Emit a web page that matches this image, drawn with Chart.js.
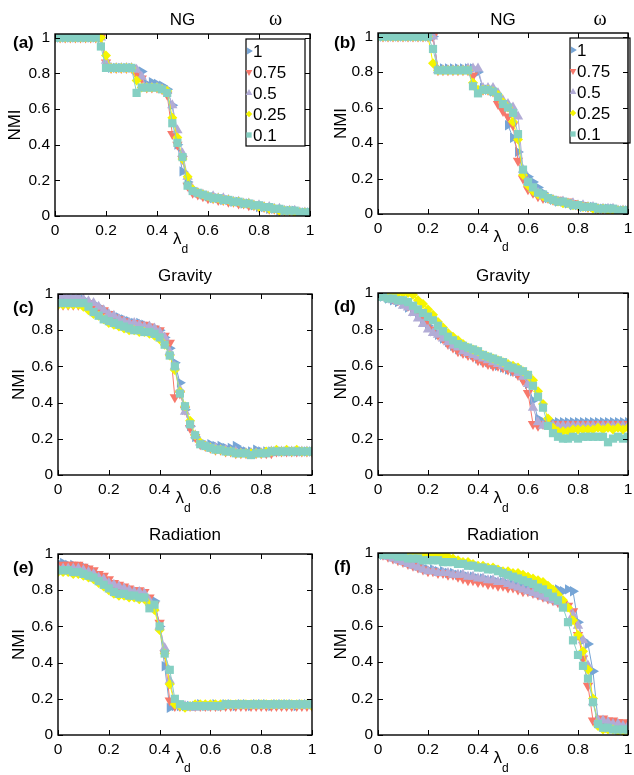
<!DOCTYPE html>
<html><head><meta charset="utf-8">
<script src="https://cdn.jsdelivr.net/npm/chart.js@4.4.1/dist/chart.umd.min.js"></script>
<style>
html,body{margin:0;padding:0;background:#fff;}
#wrap{position:relative;width:634px;height:775px;overflow:hidden;background:#fff;}
#wrap canvas{position:absolute;left:0;top:0;}
</style></head><body>
<div id="wrap">
<canvas id="ca" width="634" height="775"></canvas>
<canvas id="cb" width="634" height="775"></canvas>
<canvas id="cc" width="634" height="775"></canvas>
<canvas id="cd" width="634" height="775"></canvas>
<canvas id="ce" width="634" height="775"></canvas>
<canvas id="cf" width="634" height="775"></canvas>
</div>
<script>
// ---------- data ----------
const lambda = [0,0.02,0.04,0.06,0.08,0.1,0.12,0.14,0.16,0.18,0.2,0.22,0.24,0.26,0.28,0.3,0.32,0.34,0.36,0.38,0.4,0.42,0.44,0.46,0.48,0.5,0.52,0.54,0.56,0.58,0.6,0.62,0.64,0.66,0.68,0.7,0.72,0.74,0.76,0.78,0.8,0.82,0.84,0.86,0.88,0.9,0.92,0.94,0.96,0.98,1];
const omegaLabels = ['1','0.75','0.5','0.25','0.1'];
const xTickValues = [0,0.2,0.4,0.6,0.8,1];
const xTickLabels = ['0','0.2','0.4','0.6','0.8','1'];
const yTickValues = [0,0.2,0.4,0.6,0.8,1];
const yTickLabels = ['0','0.2','0.4','0.6','0.8','1'];

// (a) NG
const ngA_w1   = [1,1,1,1,1,1,1,1,1,1, 0.84,0.83,0.83,0.83,0.83,0.83,0.82,0.81,0.74,0.75, 0.74,0.73,0.71,0.62,0.40,0.25,0.19,0.15,0.13,0.12, 0.11,0.10,0.10,0.09,0.09,0.08,0.08,0.07,0.07,0.06, 0.05,0.05,0.04,0.04,0.03,0.03,0.03,0.03,0.02,0.02, 0.02];
const ngA_w075 = [1,1,1,1,1,1,1,1,1,1, 0.86,0.83,0.83,0.83,0.83,0.83,0.79,0.77,0.72,0.72, 0.72,0.71,0.68,0.46,0.40,0.32,0.17,0.13,0.12,0.11, 0.10,0.10,0.09,0.09,0.08,0.08,0.07,0.07,0.06,0.06, 0.05,0.05,0.04,0.04,0.03,0.03,0.03,0.02,0.02,0.02, 0.02];
const ngA_w05  = [1,1,1,1,1,1,1,1,1,1, 0.87,0.83,0.83,0.83,0.83,0.83,0.82,0.78,0.72,0.72, 0.72,0.71,0.70,0.62,0.48,0.35,0.22,0.15,0.13,0.12, 0.11,0.11,0.10,0.10,0.09,0.08,0.08,0.07,0.07,0.06, 0.06,0.05,0.05,0.04,0.04,0.03,0.03,0.03,0.02,0.02, 0.02];
const ngA_w025 = [1,1,1,1,1,1,1,1,1,1, 0.90,0.83,0.83,0.83,0.83,0.83,0.76,0.72,0.72,0.72, 0.72,0.71,0.70,0.55,0.44,0.32,0.22,0.15,0.13,0.12, 0.11,0.10,0.10,0.09,0.09,0.08,0.08,0.07,0.07,0.06, 0.05,0.05,0.04,0.04,0.03,0.03,0.03,0.02,0.02,0.02, 0.02];
const ngA_w01  = [1,1,1,1,1,1,1,1,1,0.95, 0.83,0.83,0.83,0.83,0.83,0.83,0.69,0.72,0.72,0.72, 0.72,0.71,0.69,0.52,0.41,0.33,0.17,0.14,0.13,0.12, 0.11,0.10,0.10,0.09,0.09,0.08,0.08,0.07,0.07,0.06, 0.06,0.05,0.05,0.04,0.04,0.03,0.03,0.03,0.02,0.02, 0.02];

// (b) NG
const ngB_w1   = [1,1,1,1,1,1,1,1,1,1, 1,1,0.82,0.82,0.82,0.82,0.82,0.82,0.82,0.82, 0.80,0.71,0.70,0.69,0.66,0.62,0.50,0.43,0.35,0.23, 0.21,0.18,0.15,0.12,0.09,0.08,0.07,0.07,0.06,0.05, 0.05,0.04,0.04,0.04,0.03,0.03,0.03,0.03,0.02,0.02, 0.02];
const ngB_w075 = [1,1,1,1,1,1,1,1,1,1, 1,1,0.81,0.81,0.81,0.81,0.81,0.81,0.81,0.78, 0.70,0.70,0.70,0.69,0.62,0.58,0.55,0.50,0.30,0.20, 0.14,0.12,0.10,0.09,0.09,0.08,0.08,0.07,0.07,0.06, 0.05,0.05,0.04,0.04,0.03,0.03,0.03,0.02,0.02,0.02, 0.02];
const ngB_w05  = [1,1,1,1,1,1,1,1,1,1, 1,1,0.81,0.81,0.81,0.81,0.81,0.81,0.82,0.82, 0.82,0.71,0.71,0.71,0.68,0.64,0.62,0.60,0.55,0.25, 0.18,0.14,0.12,0.10,0.09,0.08,0.07,0.07,0.06,0.06, 0.05,0.05,0.04,0.04,0.03,0.03,0.03,0.03,0.02,0.02, 0.02];
const ngB_w025 = [1,1,1,1,1,1,1,1,1,1, 1,0.85,0.81,0.81,0.81,0.81,0.81,0.81,0.81,0.74, 0.70,0.70,0.70,0.69,0.67,0.63,0.60,0.52,0.42,0.22, 0.16,0.13,0.11,0.10,0.09,0.08,0.07,0.06,0.06,0.05, 0.05,0.04,0.04,0.03,0.03,0.03,0.02,0.02,0.02,0.02, 0.02];
const ngB_w01  = [1,1,1,1,1,1,1,1,1,1, 1,0.93,0.81,0.81,0.81,0.81,0.81,0.81,0.81,0.72, 0.68,0.70,0.70,0.69,0.66,0.62,0.60,0.57,0.45,0.25, 0.18,0.15,0.12,0.11,0.09,0.08,0.07,0.07,0.06,0.05, 0.05,0.04,0.04,0.04,0.03,0.03,0.03,0.03,0.02,0.02, 0.02];

// (c) Gravity
const gravC_w1   = [0.97,0.97,0.97,0.97,0.97,0.97,0.95,0.94,0.93,0.91, 0.89,0.88,0.87,0.86,0.85,0.84,0.84,0.83,0.82,0.81, 0.80,0.76,0.70,0.62,0.51,0.36,0.27,0.21,0.18,0.17, 0.17,0.16,0.16,0.15,0.15,0.16,0.14,0.13,0.13,0.14, 0.13,0.13,0.13,0.13,0.13,0.13,0.13,0.13,0.13,0.13, 0.13];
const gravC_w075 = [0.94,0.94,0.94,0.94,0.94,0.95,0.95,0.93,0.92,0.91, 0.89,0.87,0.86,0.85,0.84,0.84,0.83,0.83,0.82,0.81, 0.80,0.77,0.73,0.43,0.45,0.36,0.26,0.21,0.17,0.16, 0.15,0.14,0.14,0.13,0.13,0.12,0.12,0.12,0.12,0.12, 0.12,0.12,0.12,0.13,0.13,0.13,0.13,0.13,0.13,0.13, 0.13];
const gravC_w05  = [0.99,0.99,0.98,0.98,0.98,0.97,0.96,0.95,0.93,0.91, 0.89,0.88,0.86,0.85,0.84,0.84,0.83,0.82,0.82,0.81, 0.79,0.76,0.68,0.60,0.47,0.35,0.28,0.22,0.18,0.16, 0.15,0.15,0.14,0.14,0.13,0.13,0.12,0.12,0.12,0.12, 0.12,0.12,0.13,0.13,0.13,0.13,0.13,0.13,0.13,0.13, 0.13];
const gravC_w025 = [0.94,0.94,0.94,0.94,0.94,0.93,0.91,0.89,0.88,0.86, 0.84,0.83,0.82,0.81,0.80,0.80,0.79,0.79,0.78,0.77, 0.75,0.72,0.66,0.58,0.46,0.38,0.30,0.22,0.18,0.16, 0.15,0.14,0.14,0.13,0.13,0.12,0.12,0.12,0.12,0.12, 0.12,0.13,0.13,0.14,0.13,0.14,0.13,0.14,0.13,0.13, 0.13];
const gravC_w01  = [0.95,0.95,0.95,0.95,0.95,0.95,0.93,0.90,0.88,0.86, 0.85,0.84,0.83,0.82,0.81,0.80,0.80,0.79,0.79,0.78, 0.76,0.72,0.66,0.60,0.45,0.38,0.28,0.22,0.17,0.16, 0.15,0.14,0.14,0.13,0.13,0.12,0.12,0.12,0.11,0.12, 0.12,0.12,0.13,0.13,0.13,0.13,0.13,0.13,0.13,0.13, 0.13];

// (d) Gravity
const gravD_w1   = [0.98,0.98,0.97,0.96,0.95,0.94,0.92,0.90,0.88,0.85, 0.82,0.79,0.77,0.75,0.73,0.71,0.69,0.68,0.67,0.66, 0.64,0.63,0.62,0.61,0.60,0.59,0.58,0.57,0.56,0.54, 0.50,0.41,0.31,0.29,0.29,0.29,0.29,0.29,0.29,0.29, 0.29,0.29,0.29,0.29,0.29,0.29,0.29,0.29,0.29,0.29, 0.29];
const gravD_w075 = [1.00,0.99,0.98,0.97,0.96,0.95,0.93,0.91,0.89,0.86, 0.83,0.80,0.77,0.75,0.72,0.70,0.68,0.67,0.66,0.65, 0.63,0.62,0.61,0.60,0.60,0.59,0.58,0.57,0.55,0.52, 0.45,0.28,0.27,0.28,0.28,0.28,0.28,0.28,0.28,0.28, 0.28,0.28,0.28,0.28,0.28,0.28,0.28,0.28,0.28,0.28, 0.28];
const gravD_w05  = [0.99,0.98,0.97,0.96,0.95,0.93,0.92,0.89,0.86,0.83, 0.80,0.78,0.77,0.75,0.73,0.71,0.70,0.68,0.67,0.66, 0.65,0.64,0.63,0.62,0.61,0.60,0.59,0.58,0.56,0.54, 0.50,0.37,0.29,0.27,0.27,0.27,0.27,0.27,0.27,0.27, 0.27,0.27,0.27,0.27,0.27,0.27,0.27,0.27,0.27,0.27, 0.27];
const gravD_w025 = [1.00,1.00,1.00,1.00,1.00,1.00,1.00,0.99,0.96,0.94, 0.91,0.88,0.84,0.81,0.78,0.76,0.74,0.72,0.70,0.69, 0.68,0.66,0.65,0.64,0.63,0.62,0.61,0.60,0.59,0.57, 0.55,0.52,0.46,0.39,0.31,0.26,0.24,0.24,0.24,0.25, 0.25,0.25,0.25,0.25,0.26,0.25,0.26,0.25,0.26,0.25, 0.26];
const gravD_w01  = [0.98,0.98,0.97,0.97,0.96,0.96,0.95,0.93,0.91,0.89, 0.87,0.85,0.82,0.79,0.76,0.74,0.72,0.71,0.70,0.69, 0.68,0.66,0.65,0.64,0.63,0.62,0.60,0.59,0.58,0.57, 0.55,0.49,0.43,0.37,0.27,0.23,0.21,0.20,0.20,0.21, 0.20,0.21,0.21,0.21,0.21,0.21,0.18,0.20,0.21,0.20, 0.21];

// (e) Radiation
const radE_w1   = [0.95,0.95,0.94,0.94,0.93,0.93,0.92,0.90,0.88,0.86, 0.84,0.82,0.81,0.80,0.79,0.79,0.78,0.77,0.75,0.74, 0.60,0.38,0.15,0.16,0.16,0.16,0.16,0.16,0.17,0.16, 0.16,0.17,0.16,0.17,0.17,0.16,0.17,0.17,0.16,0.17, 0.17,0.17,0.16,0.17,0.17,0.17,0.17,0.16,0.17,0.17, 0.17];
const radE_w075 = [0.93,0.94,0.94,0.94,0.94,0.93,0.92,0.91,0.89,0.88, 0.86,0.84,0.83,0.82,0.81,0.80,0.80,0.79,0.76,0.72, 0.62,0.45,0.19,0.16,0.16,0.16,0.16,0.16,0.16,0.16, 0.16,0.16,0.16,0.16,0.16,0.16,0.16,0.16,0.16,0.16, 0.16,0.16,0.16,0.16,0.16,0.16,0.16,0.16,0.16,0.16, 0.16];
const radE_w05  = [0.92,0.92,0.92,0.92,0.92,0.91,0.90,0.89,0.87,0.86, 0.84,0.83,0.82,0.81,0.80,0.79,0.79,0.78,0.74,0.70, 0.60,0.48,0.30,0.18,0.16,0.16,0.15,0.15,0.16,0.16, 0.16,0.16,0.16,0.16,0.16,0.16,0.16,0.16,0.16,0.16, 0.16,0.16,0.16,0.16,0.16,0.16,0.16,0.16,0.16,0.16, 0.16];
const radE_w025 = [0.90,0.90,0.90,0.89,0.89,0.88,0.87,0.86,0.84,0.82, 0.80,0.78,0.77,0.77,0.76,0.76,0.75,0.75,0.72,0.69, 0.58,0.45,0.28,0.17,0.16,0.15,0.16,0.17,0.17,0.17, 0.17,0.17,0.17,0.17,0.17,0.17,0.17,0.17,0.17,0.17, 0.17,0.17,0.17,0.17,0.17,0.17,0.17,0.17,0.17,0.17, 0.16];
const radE_w01  = [0.91,0.91,0.91,0.90,0.90,0.89,0.88,0.87,0.85,0.83, 0.81,0.79,0.78,0.78,0.77,0.77,0.76,0.76,0.70,0.72, 0.60,0.45,0.36,0.20,0.17,0.16,0.16,0.16,0.16,0.16, 0.16,0.16,0.16,0.17,0.17,0.17,0.17,0.17,0.17,0.17, 0.17,0.17,0.17,0.17,0.17,0.17,0.17,0.17,0.17,0.17, 0.17];

// (f) Radiation
const radF_w1   = [1.00,0.99,0.99,0.98,0.97,0.96,0.95,0.94,0.93,0.92, 0.91,0.91,0.90,0.90,0.89,0.89,0.88,0.88,0.87,0.87, 0.86,0.86,0.85,0.85,0.84,0.84,0.83,0.83,0.82,0.82, 0.81,0.80,0.79,0.78,0.78,0.79,0.80,0.79,0.80,0.79, 0.62,0.52,0.50,0.35,0.08,0.05,0.04,0.04,0.03,0.03, 0.03];
const radF_w075 = [1.00,0.99,0.98,0.97,0.96,0.95,0.94,0.93,0.92,0.91, 0.90,0.90,0.89,0.89,0.88,0.88,0.87,0.86,0.85,0.85, 0.84,0.84,0.83,0.83,0.82,0.82,0.81,0.81,0.80,0.79, 0.79,0.78,0.77,0.76,0.75,0.74,0.73,0.72,0.71,0.68, 0.55,0.42,0.27,0.08,0.07,0.09,0.08,0.08,0.07,0.07, 0.06];
const radF_w05  = [1.00,0.99,0.98,0.97,0.96,0.95,0.94,0.93,0.92,0.91, 0.90,0.90,0.89,0.89,0.89,0.88,0.88,0.88,0.87,0.87, 0.86,0.86,0.85,0.85,0.84,0.84,0.83,0.82,0.81,0.80, 0.79,0.78,0.77,0.76,0.75,0.74,0.73,0.72,0.70,0.66, 0.60,0.52,0.38,0.18,0.08,0.08,0.07,0.06,0.06,0.05, 0.05];
const radF_w025 = [1.00,1.00,1.00,1.00,1.00,1.00,1.00,1.00,1.00,0.99, 0.99,0.99,0.99,0.99,0.98,0.97,0.96,0.95,0.95,0.94, 0.93,0.93,0.92,0.92,0.91,0.90,0.90,0.89,0.89,0.88, 0.87,0.86,0.85,0.84,0.82,0.80,0.77,0.74,0.70,0.63, 0.55,0.46,0.36,0.20,0.05,0.03,0.03,0.03,0.02,0.02, 0.02];
const radF_w01  = [1.00,0.99,0.99,0.99,0.98,0.98,0.97,0.97,0.97,0.96, 0.96,0.96,0.96,0.95,0.95,0.95,0.94,0.94,0.93,0.93, 0.92,0.92,0.91,0.91,0.90,0.89,0.88,0.87,0.86,0.85, 0.84,0.83,0.81,0.80,0.78,0.76,0.74,0.70,0.62,0.52, 0.44,0.38,0.31,0.18,0.06,0.04,0.04,0.03,0.03,0.03, 0.03];

// ---------- styles ----------
const seriesColors = ['#76a5d6','#f7786b','#b2acd6','#f5f500','#85d0c3'];
const seriesShapes = ['triangle','triangle','triangle','rectRot','rect'];
const seriesRotation = [90,180,0,0,0];
const seriesRadius = [6,6,6,5,5.8];
const FONT = "'Liberation Sans', Arial, Helvetica, sans-serif";

const panels = [
  {canvas:'ca', title:'NG', tag:'(a)', series:[ngA_w1,ngA_w075,ngA_w05,ngA_w025,ngA_w01],
   frame:{left:55,top:34,right:310,bottom:216,yMax:1.02,titleY:20,tagX:13,tagY:43,nmiX:15},
   legend:{left:246,top:39,right:305,bottom:146}},
  {canvas:'cb', title:'NG', tag:'(b)', series:[ngB_w1,ngB_w075,ngB_w05,ngB_w025,ngB_w01],
   frame:{left:378,top:33,right:632,bottom:214,yMax:1.02,titleY:20,tagX:334,tagY:43,nmiX:341},
   legend:{left:570,top:38,right:630,bottom:143}},
  {canvas:'cc', title:'Gravity', tag:'(c)', series:[gravC_w1,gravC_w075,gravC_w05,gravC_w025,gravC_w01],
   frame:{left:58,top:294,right:312,bottom:475,yMax:1,titleY:276,tagX:13,tagY:308,nmiX:19}},
  {canvas:'cd', title:'Gravity', tag:'(d)', series:[gravD_w1,gravD_w075,gravD_w05,gravD_w025,gravD_w01],
   frame:{left:378,top:293,right:632,bottom:475,yMax:1,titleY:276,tagX:334,tagY:307,nmiX:341}},
  {canvas:'ce', title:'Radiation', tag:'(e)', series:[radE_w1,radE_w075,radE_w05,radE_w025,radE_w01],
   frame:{left:58,top:554,right:312,bottom:735,yMax:1,titleY:535,tagX:13,tagY:568,nmiX:19}},
  {canvas:'cf', title:'Radiation', tag:'(f)', series:[radF_w1,radF_w075,radF_w05,radF_w025,radF_w01],
   frame:{left:378,top:553,right:632,bottom:735,yMax:1,titleY:535,tagX:334,tagY:567,nmiX:341}}
];

Chart.defaults.font.family = FONT;
Chart.defaults.color = '#000';

const TICK_LEN = 5;
const decor = {
  id: 'panelDecor',
  afterDatasetsDraw(chart, args, opts) {
    const {ctx, chartArea: a} = chart;
    const xs = chart.scales.x, ys = chart.scales.y;
    ctx.save();
    // legend
    if (opts.legend) {
      const L = opts.legend;
      ctx.fillStyle = '#fff';
      ctx.fillRect(L.left, L.top, L.right - L.left, L.bottom - L.top);
      ctx.strokeStyle = '#000'; ctx.lineWidth = 1.2;
      ctx.strokeRect(L.left, L.top, L.right - L.left, L.bottom - L.top);
      ctx.font = '17px ' + FONT; ctx.textAlign = 'left'; ctx.textBaseline = 'middle';
      chart.data.datasets.forEach((ds, i) => {
        const yy = L.top + 12 + i * 21;
        ctx.fillStyle = ds.backgroundColor;
        Chart.helpers.drawPoint(ctx, {pointStyle: ds.pointStyle, rotation: ds.pointRotation, radius: ds.pointRadius * 0.65, borderWidth: 0}, L.left + 3, yy);
        ctx.fillStyle = '#000';
        ctx.fillText(ds.label, L.left + 7, yy + 1);
      });
      // omega header
      ctx.font = '20px "Liberation Serif", "DejaVu Serif", serif';
      ctx.textAlign = 'center'; ctx.textBaseline = 'middle';
      ctx.fillText('ω', (L.left + L.right) / 2, opts.titleY);
    }
    // inward tick marks
    ctx.strokeStyle = '#000'; ctx.lineWidth = 1;
    ctx.beginPath();
    xs.ticks.forEach(t => {
      const px = Math.round(xs.getPixelForValue(t.value)) + 0.5;
      ctx.moveTo(px, a.bottom); ctx.lineTo(px, a.bottom - TICK_LEN);
      ctx.moveTo(px, a.top); ctx.lineTo(px, a.top + TICK_LEN);
    });
    ys.ticks.forEach(t => {
      const py = Math.round(ys.getPixelForValue(t.value)) + 0.5;
      ctx.moveTo(a.left, py); ctx.lineTo(a.left + TICK_LEN, py);
      ctx.moveTo(a.right, py); ctx.lineTo(a.right - TICK_LEN, py);
    });
    ctx.stroke();
    // box
    ctx.lineWidth = 1.4;
    ctx.strokeRect(a.left, a.top, a.right - a.left, a.bottom - a.top);
    // title
    ctx.fillStyle = '#000';
    ctx.font = '17px ' + FONT; ctx.textAlign = 'center'; ctx.textBaseline = 'middle';
    ctx.fillText(opts.title, (a.left + a.right) / 2, opts.titleY);
    // panel tag
    ctx.font = 'bold 17px ' + FONT; ctx.textAlign = 'left';
    ctx.fillText(opts.tag, opts.tagX, opts.tagY);
    // x-axis title: lambda with subscript d
    const cx = (a.left + a.right) / 2 - 2;
    ctx.textBaseline = 'alphabetic';
    ctx.font = '17px ' + FONT; ctx.textAlign = 'right';
    ctx.fillText('λ', cx + 1, a.bottom + 28);
    ctx.font = '12px ' + FONT; ctx.textAlign = 'left';
    ctx.fillText('d', cx + 1, a.bottom + 37);
    ctx.restore();
  }
};

const NMI_LH = 17 * 1.2;
const X_H = 20;
panels.forEach(p => {
  const f = p.frame;
  const padLeft = f.nmiX - NMI_LH / 2;
  const yWidth = f.left - padLeft;
  const datasets = omegaLabels.map((lab, k) => ({
    label: lab,
    data: lambda.map((x, i) => ({x: x, y: p.series[k][i]})),
    borderColor: seriesColors[k],
    backgroundColor: seriesColors[k],
    borderWidth: 1,
    pointStyle: seriesShapes[k],
    pointRotation: seriesRotation[k],
    pointRadius: seriesRadius[k],
    pointHoverRadius: seriesRadius[k],
    pointBorderWidth: 0,
    tension: 0,
    order: 4 - k
  }));
  new Chart(document.getElementById(p.canvas), {
    type: 'line',
    data: {datasets},
    options: {
      responsive: false,
      maintainAspectRatio: false,
      animation: false,
      events: [],
      layout: {padding: {left: padLeft, top: f.top, right: 634 - f.right, bottom: 775 - f.bottom - X_H}},
      scales: {
        x: {
          type: 'linear', min: 0, max: 1,
          afterBuildTicks: s => { s.ticks = xTickValues.map(v => ({value: v})); },
          afterFit: s => { s.height = X_H; s.paddingLeft = 0; s.paddingRight = 0; s.paddingTop = 0; s.paddingBottom = 0; },
          grid: {display: false, drawTicks: false},
          border: {display: false},
          ticks: {padding: 5, maxRotation: 0, autoSkip: false, font: {size: 15.5}, color: '#000',
                  callback: (v, i) => xTickLabels[i]}
        },
        y: {
          type: 'linear', min: 0, max: f.yMax,
          afterBuildTicks: s => { s.ticks = yTickValues.map(v => ({value: v})); },
          afterFit: s => { s.width = yWidth; s.paddingLeft = 0; s.paddingRight = 0; s.paddingTop = 0; s.paddingBottom = 0; },
          grid: {display: false, drawTicks: false},
          border: {display: false},
          title: {display: true, text: 'NMI', font: {size: 17}, padding: 0, color: '#000'},
          ticks: {padding: 5, autoSkip: false, font: {size: 15.5}, color: '#000',
                  callback: (v, i) => yTickLabels[i]}
        }
      },
      plugins: {
        legend: {display: false},
        tooltip: {enabled: false},
        panelDecor: {title: p.title, tag: p.tag, titleY: f.titleY, tagX: f.tagX, tagY: f.tagY, legend: p.legend || null}
      }
    },
    plugins: [decor]
  });
});
</script>
</body></html>
